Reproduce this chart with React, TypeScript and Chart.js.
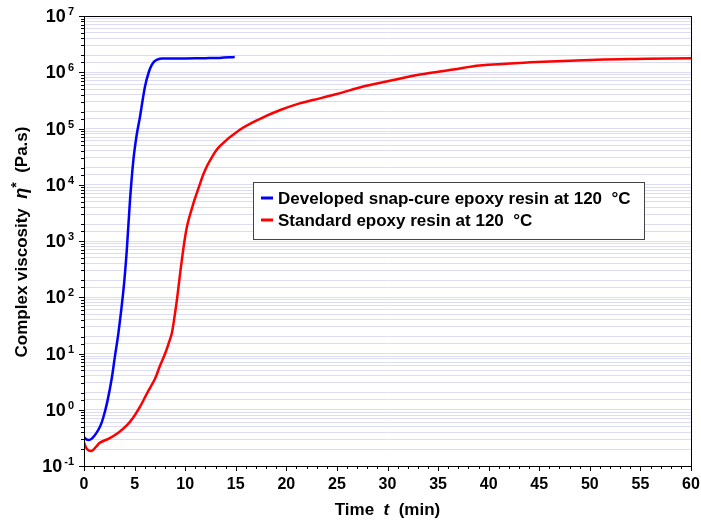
import React, { useEffect, useRef } from "react";
import { Chart, registerables } from "chart.js";

Chart.register(...registerables);

const blueTime = [0, 0.2, 0.5, 0.8, 1.2, 1.6, 1.9, 2.3, 2.74, 3.06, 3.4, 3.9, 4.23, 4.55, 4.88, 5.2, 5.53, 6.03, 6.4, 6.7, 7.0, 7.5, 8.0, 8.8, 10, 12, 13.4, 14.9];
const blueVisc = [0.33, 0.3, 0.29, 0.31, 0.38, 0.51, 0.72, 1.38, 3.6, 9, 23, 135, 690, 5400, 2.75e4, 7.5e4, 1.6e5, 5.6e5, 1.0e6, 1.35e6, 1.58e6, 1.74e6, 1.75e6, 1.75e6, 1.76e6, 1.78e6, 1.8e6, 1.87e6];

const redTime = [0, 0.3, 0.76, 1.2, 1.58, 2.5, 3.39, 4.2, 4.87, 5.5, 6.19, 7.03, 7.5, 8.02, 8.35, 8.68, 8.93, 9.18, 9.67, 10.17, 10.82, 11.32, 11.9, 12.5, 13.4, 15.4, 17.4, 19.4, 21.3, 22.6, 25, 27.6, 30, 33.2, 36.5, 39.1, 44.1, 50.7, 55.6, 60];
const redVisc = [0.26, 0.2, 0.185, 0.22, 0.26, 0.31, 0.39, 0.52, 0.73, 1.1, 1.9, 3.6, 6.0, 10, 14.8, 23, 43, 89, 457, 1780, 4700, 8700, 1.7e4, 2.8e4, 4.8e4, 9.5e4, 1.49e5, 2.13e5, 2.8e5, 3.2e5, 4.1e5, 5.6e5, 6.9e5, 9.1e5, 1.12e6, 1.32e6, 1.5e6, 1.67e6, 1.73e6, 1.78e6];

const seriesLabels = ["Developed snap-cure epoxy resin at 120  \u00B0C", "Standard epoxy resin at 120  \u00B0C"];
const seriesColors = ["#0000ff", "#ff0000"];
const xMajorTicks = [0, 5, 10, 15, 20, 25, 30, 35, 40, 45, 50, 55, 60];
const yExponents = [-1, 0, 1, 2, 3, 4, 5, 6, 7];

const FONT = "'Liberation Sans', Arial, sans-serif";

const drawPlugin = {
  id: "customDraw",
  afterDraw(chart: any) {
    const ctx = chart.ctx as CanvasRenderingContext2D;
    const area = chart.chartArea;
    const xs = chart.scales.x;
    const ys = chart.scales.y;
    ctx.save();
    // frame
    ctx.strokeStyle = "#000";
    ctx.lineWidth = 1;
    ctx.strokeRect(Math.round(area.left) + 0.5, Math.round(area.top) + 0.5, Math.round(area.right - area.left), Math.round(area.bottom - area.top));
    // y ticks
    ctx.beginPath();
    for (const t of ys.ticks) {
      const v = t.value;
      const lg = Math.log10(v);
      const major = Math.abs(lg - Math.round(lg)) < 1e-9;
      const py = Math.round(ys.getPixelForValue(v)) + 0.5;
      const len = major ? 5 : 3;
      ctx.moveTo(area.left, py);
      ctx.lineTo(area.left - len, py);
    }
    // x ticks
    for (const t of xs.ticks) {
      const v = t.value;
      const major = v % 5 === 0;
      const px = Math.round(xs.getPixelForValue(v)) + 0.5;
      const len = major ? 5 : 3;
      ctx.moveTo(px, area.bottom);
      ctx.lineTo(px, area.bottom + len);
    }
    ctx.stroke();

    // x labels
    ctx.fillStyle = "#000";
    ctx.font = `bold 16px ${FONT}`;
    ctx.textAlign = "center";
    ctx.textBaseline = "middle";
    for (const v of xMajorTicks) {
      ctx.fillText(String(v), xs.getPixelForValue(v), area.bottom + 19);
    }
    // y labels
    for (const e of yExponents) {
      const py = ys.getPixelForValue(Math.pow(10, e));
      const sup = e < 0 ? "-" + Math.abs(e) : String(e);
      ctx.font = `bold 11px ${FONT}`;
      const sw = ctx.measureText(sup).width;
      const rightEdge = 74;
      ctx.textAlign = "left";
      ctx.textBaseline = "alphabetic";
      ctx.fillText(sup, rightEdge - sw, py - 1);
      ctx.font = `bold 18px ${FONT}`;
      ctx.textAlign = "right";
      ctx.fillText("10", rightEdge - sw - 2, py + 6);
    }

    const drawRuns = (runs: { t: string; f: string; dy?: number }[], cx: number, cy: number) => {
      let total = 0;
      for (const r of runs) {
        ctx.font = r.f;
        total += ctx.measureText(r.t).width;
      }
      let x = cx - total / 2;
      ctx.textAlign = "left";
      ctx.textBaseline = "middle";
      for (const r of runs) {
        ctx.font = r.f;
        ctx.fillText(r.t, x, cy + (r.dy || 0));
        x += ctx.measureText(r.t).width;
      }
    };
    // x title
    drawRuns(
      [
        { t: "Time  ", f: `bold 17px ${FONT}` },
        { t: "t", f: `italic bold 17px ${FONT}` },
        { t: "  (min)", f: `bold 17px ${FONT}` },
      ],
      (area.left + area.right) / 2,
      510
    );
    // y title
    ctx.save();
    ctx.translate(22, 242);
    ctx.rotate(-Math.PI / 2);
    drawRuns(
      [
        { t: "Complex viscosity  ", f: `bold 17px ${FONT}` },
        { t: "\u03B7", f: `italic bold 18px ${FONT}` },
        { t: "*", f: `bold 14px ${FONT}`, dy: -5 },
        { t: "  (Pa.s)", f: `bold 17px ${FONT}` },
      ],
      0,
      0
    );
    ctx.restore();

    // legend
    const bx = 253, by = 182, bw = 391, bh = 57;
    ctx.fillStyle = "#fff";
    ctx.fillRect(bx, by, bw, bh);
    ctx.strokeStyle = "#444";
    ctx.lineWidth = 1;
    ctx.strokeRect(bx + 0.5, by + 0.5, bw, bh);
    const rows = [198, 220];
    for (let i = 0; i < 2; i++) {
      ctx.strokeStyle = seriesColors[i];
      ctx.lineWidth = 3;
      ctx.beginPath();
      ctx.moveTo(261, rows[i]);
      ctx.lineTo(273, rows[i]);
      ctx.stroke();
      ctx.fillStyle = "#000";
      ctx.font = `bold 17px ${FONT}`;
      ctx.textAlign = "left";
      ctx.textBaseline = "middle";
      ctx.fillText(seriesLabels[i], 278, rows[i] + 1);
    }
    ctx.restore();
  },
};

export default function App() {
  const ref = useRef<HTMLCanvasElement | null>(null);
  useEffect(() => {
    if (!ref.current) return;
    const mk = (xs: number[], ys: number[]) => xs.map((x, i) => ({ x, y: ys[i] }));
    const chart = new Chart(ref.current, {
      type: "line",
      data: {
        datasets: [
          {
            label: seriesLabels[0],
            data: mk(blueTime, blueVisc),
            borderColor: seriesColors[0],
            borderWidth: 2.5,
            pointRadius: 0,
            tension: 0.35,
            fill: false,
          },
          {
            label: seriesLabels[1],
            data: mk(redTime, redVisc),
            borderColor: seriesColors[1],
            borderWidth: 2.5,
            pointRadius: 0,
            tension: 0.35,
            fill: false,
          },
        ],
      },
      options: {
        responsive: false,
        animation: false,
        devicePixelRatio: 1,
        layout: { padding: { left: 84, right: 10, top: 16, bottom: 58 } },
        plugins: { legend: { display: false }, tooltip: { enabled: false } },
        scales: {
          x: {
            type: "linear",
            min: 0,
            max: 60,
            ticks: { display: false, stepSize: 1 },
            grid: { display: false, drawTicks: false },
            border: { display: false },
            afterFit: (s: any) => { s.height = 0; },
          },
          y: {
            type: "logarithmic",
            min: 0.1,
            max: 1e7,
            ticks: { display: false },
            grid: { display: true, drawTicks: false, color: "#dcdcf4", lineWidth: 1 },
            border: { display: false },
            afterFit: (s: any) => { s.width = 0; },
          },
        },
      } as any,
      plugins: [drawPlugin],
    });
    return () => chart.destroy();
  }, []);
  return (
    <div style={{ position: "fixed", left: 0, top: 0, width: 701, height: 524, background: "#fff" }}>
      <canvas ref={ref} width={701} height={524} style={{ width: 701, height: 524 }} />
    </div>
  );
}
